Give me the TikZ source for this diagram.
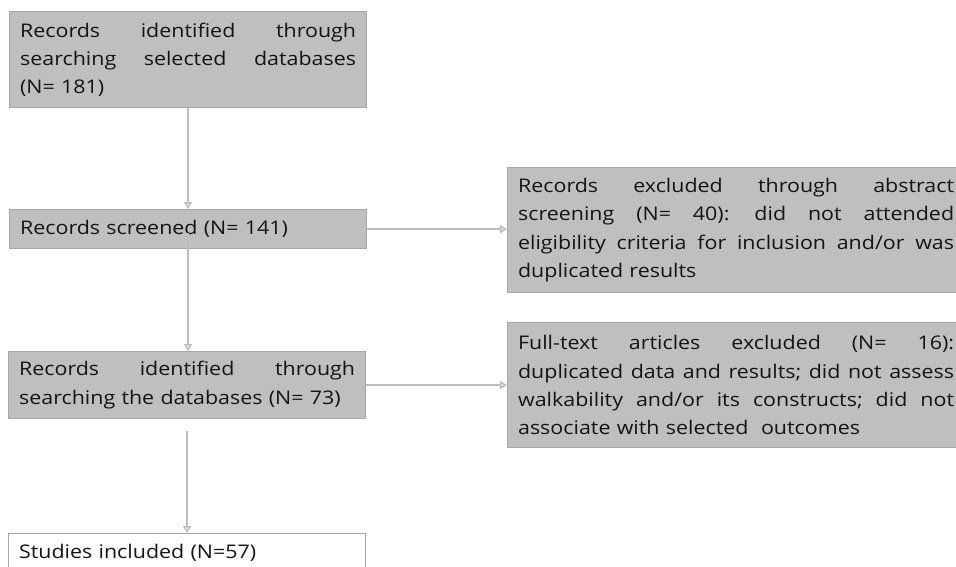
\documentclass[tikz,border=0pt]{standalone}
\usepackage{fontspec}
\setmainfont{Open Sans}[FakeStretch=1.14]
\usetikzlibrary{arrows.meta}
\definecolor{boxfill}{HTML}{BFBFBF}
\definecolor{boxline}{HTML}{A6A6A6}
\definecolor{arrowc}{HTML}{BDBDBD}
\definecolor{txt}{HTML}{141414}
\setlength{\parindent}{0pt}
\newcommand\jl[1]{\noindent\hbox to \linewidth{#1}\par}
\begin{document}
\begin{tikzpicture}[x=1pt,y=-1pt,
  box/.style={draw=boxline, fill=boxfill, line width=1.2pt, anchor=north west,
    inner xsep=10.5pt, inner ysep=0pt, text=txt, align=left,
    font=\fontsize{18.8}{28.3}\selectfont},
  arr/.style={draw=arrowc, line width=1.6pt,
    -{Triangle[open, length=7pt, width=8pt]}}]
\useasboundingbox (0,0) rectangle (956,566);
\clip (0,0) rectangle (956,566);
\fill[white] (0,0) rectangle (956,566);
\node[box, text width=336pt, minimum height=96pt] (b1) at (9,11)
  {\jl{Records \hfill identified \hfill through}\jl{searching \hfill selected \hfill databases}(N= 181)};
\node[box, text width=336pt, minimum height=39pt] (b2) at (9,209)
  {Records screened (N= 141)};
\node[box, text width=336pt, minimum height=67pt] (b3) at (8,351)
  {\jl{Records \hfill identified \hfill through}searching the databases (N= 73)};
\node[box, fill=white, text width=336pt, minimum height=39pt] (b4) at (8,533)
  {Studies included (N=57)};
\node[box, text width=436pt, minimum height=125pt] (r1) at (507,167)
  {\jl{Records \hfill excluded \hfill through \hfill abstract}\jl{screening \hfill (N= \hfill 40): \hfill did \hfill not \hfill attended}\jl{eligibility \hfill criteria \hfill for \hfill inclusion \hfill and/or \hfill was}duplicated results};
\node[box, text width=436pt, minimum height=125pt] (r2) at (507,322)
  {\jl{Full-text \hfill articles \hfill excluded \hfill (N= \hfill 16):}\jl{duplicated \hfill data \hfill and \hfill results; \hfill did \hfill not \hfill assess}\jl{walkability \hfill and/or \hfill its \hfill constructs; \hfill did \hfill not}associate with selected\ \ outcomes};
\draw[arr] (b1.south) -- (b2.north);
\draw[arr, shorten <=-16pt] (b2.south) -- (b2.south |- b3.north);
\draw[arr, shorten <=12pt] (b3.south) -- (b4.north);
\draw[arr] (b2.east) -- (r1.west |- b2.east);
\draw[arr] (b3.east) -- (r2.west |- b3.east);
\end{tikzpicture}
\end{document}
